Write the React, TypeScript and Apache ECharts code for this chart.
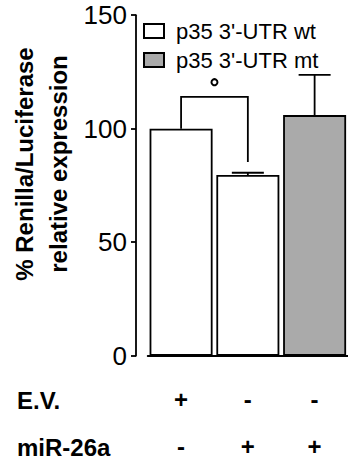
import React, { useEffect, useRef } from 'react';
import * as echarts from 'echarts';

const categories = ['wt / E.V.', 'wt / miR-26a', 'mt / miR-26a'];
const seriesNames = ["p35 3'-UTR wt", "p35 3'-UTR mt"];
const wtValues: (number | string)[] = [100, 79.6, '-'];
const mtValues: (number | string)[] = ['-', '-', 106];
const errValues = [0, 1, 17.7];
const evSigns = ['+', '-', '-'];
const mirSigns = ['-', '+', '+'];
const rowLabels = ['E.V.', 'miR-26a'];
const yMin = 0;
const yMax = 150;
const yInterval = 50;
const yTitle = ['% Renilla/Luciferase', 'relative expression'];
// significance bracket: from category, to category, left end value, top value, right end value, mark value
const bracket = [0, 1, 100, 114, 85.3, 120.5];

const FONT = 'Liberation Sans, Arial, sans-serif';

export default function App() {
  const ref = useRef<HTMLDivElement>(null);
  useEffect(() => {
    if (!ref.current) return;
    const chart = echarts.init(ref.current, undefined, { renderer: 'svg' });
    const barValues = categories.map((_, i) =>
      typeof wtValues[i] === 'number' ? (wtValues[i] as number) : (mtValues[i] as number)
    );
    const errData = categories.map((_, i) => [i, barValues[i], errValues[i]]);
    const stroke = { stroke: '#000', lineWidth: 1.8 };
    const option: any = {
      animation: false,
      backgroundColor: '#fff',
      textStyle: { fontFamily: FONT },
      grid: { left: 147.7, top: 15.2, width: 210, height: 340.5, containLabel: false },
      legend: {
        orient: 'vertical',
        left: 143,
        top: 20,
        padding: 0,
        itemWidth: 20,
        itemHeight: 14,
        itemGap: 7,
        icon: 'rect',
        data: seriesNames,
        textStyle: { fontSize: 22, fontFamily: FONT, color: '#000', padding: [0, 0, 0, 7] },
      },
      xAxis: {
        type: 'category',
        data: categories,
        offset: 14.3,
        axisLine: { show: true, lineStyle: { color: '#000', width: 1.8 } },
        axisTick: { show: false },
        axisLabel: {
          margin: 6,
          interval: 0,
          formatter: (_: string, i: number) => `{s|${evSigns[i]}}\n{s|${mirSigns[i]}}`,
          rich: { s: { fontSize: 24, fontWeight: 'bold', color: '#000', lineHeight: 47, fontFamily: FONT } },
        },
      },
      yAxis: {
        type: 'value',
        min: yMin,
        max: yMax,
        interval: yInterval,
        offset: 11.7,
        splitLine: { show: false },
        axisLine: { show: true, lineStyle: { color: '#000', width: 1.8 } },
        axisTick: { show: true, inside: false, length: 5, lineStyle: { color: '#000', width: 1.8 } },
        axisLabel: { fontSize: 26, color: '#000', margin: 9, fontFamily: FONT },
      },
      graphic: [
        ...yTitle.map((t, k) => ({
          type: 'text',
          x: k === 0 ? 24 : 58,
          y: 164,
          rotation: Math.PI / 2,
          style: {
            text: t,
            fontSize: 24,
            fontWeight: 'bold',
            fontFamily: FONT,
            fill: '#000',
            textAlign: 'center',
            textVerticalAlign: 'middle',
          },
        })),
        ...rowLabels.map((t, k) => ({
          type: 'text',
          x: 17,
          y: k === 0 ? 400 : 447,
          style: {
            text: t,
            fontSize: 24,
            fontWeight: 'bold',
            fontFamily: FONT,
            fill: '#000',
            textAlign: 'left',
            textVerticalAlign: 'middle',
          },
        })),
      ],
      series: [
        {
          name: seriesNames[0],
          type: 'bar',
          data: wtValues,
          barWidth: 63,
          barGap: '-100%',
          itemStyle: { color: '#fff', borderColor: '#000', borderWidth: 1.8 },
        },
        {
          name: seriesNames[1],
          type: 'bar',
          data: mtValues,
          barWidth: 63,
          barGap: '-100%',
          itemStyle: { color: '#aaaaaa', borderColor: '#000', borderWidth: 1.8 },
        },
        {
          type: 'custom',
          z: 5,
          data: errData,
          renderItem: (_p: any, api: any) => {
            const i = api.value(0);
            const v = api.value(1);
            const e = api.value(2);
            if (!e) return null;
            const base = api.coord([i, v]);
            const top = api.coord([i, v + e]);
            return {
              type: 'group',
              children: [
                { type: 'line', shape: { x1: base[0], y1: base[1], x2: top[0], y2: top[1] }, style: stroke },
                { type: 'line', shape: { x1: top[0] - 16, y1: top[1], x2: top[0] + 16, y2: top[1] }, style: stroke },
              ],
            };
          },
        },
        {
          type: 'custom',
          z: 5,
          data: [bracket],
          renderItem: (_p: any, api: any) => {
            const a = api.value(0);
            const b = api.value(1);
            const p1 = api.coord([a, api.value(2)]);
            const p2 = api.coord([a, api.value(3)]);
            const p3 = api.coord([b, api.value(3)]);
            const p4 = api.coord([b, api.value(4)]);
            const m = api.coord([a, api.value(5)]);
            const mx = (p2[0] + p3[0]) / 2;
            return {
              type: 'group',
              children: [
                { type: 'polyline', shape: { points: [p1, p2, p3, p4] }, style: { ...stroke, fill: 'none' } },
                { type: 'circle', shape: { cx: mx, cy: m[1], r: 3 }, style: { stroke: '#000', lineWidth: 2, fill: '#fff' } },
              ],
            };
          },
        },
      ],
    };
    chart.setOption(option);
    return () => chart.dispose();
  }, []);
  return <div ref={ref} style={{ position: 'absolute', left: 0, top: 0, width: 348, height: 459 }} />;
}
